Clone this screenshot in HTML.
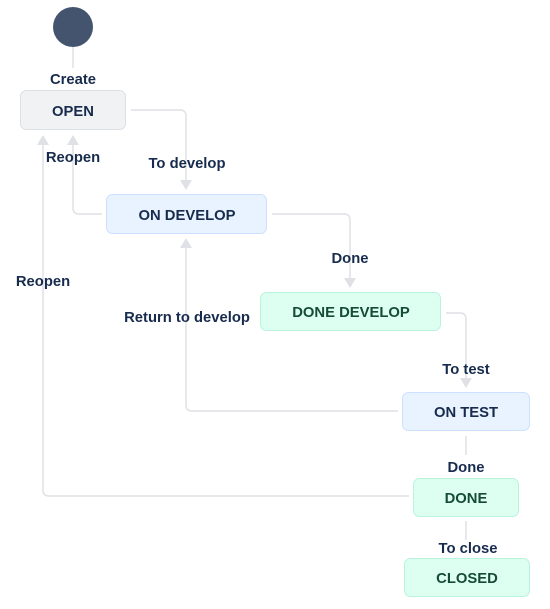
<!DOCTYPE html>
<html><head><meta charset="utf-8"><style>
html,body{margin:0;padding:0;background:#fff;}
svg text{font-family:"Liberation Sans",Arial,sans-serif;font-weight:bold;font-size:14.8px;text-anchor:middle;}
</style></head><body>
<svg width="550" height="604" viewBox="0 0 550 604" xmlns="http://www.w3.org/2000/svg">
<g fill="none" stroke="#dfe1e6" stroke-width="1.5">
<path d="M73 47 V68"/>
<path d="M131 110 H180 Q186 110 186 116 V180"/>
<path d="M102 214 H79 Q73 214 73 208 V142"/>
<path d="M409 496 H49 Q43 496 43 490 V142"/>
<path d="M272 214 H344 Q350 214 350 220 V278"/>
<path d="M446 313 H460 Q466 313 466 319 V378"/>
<path d="M398 411 H192 Q186 411 186 405 V248"/>
<path d="M466 436 V455"/>
<path d="M466 521 V540"/>
</g>
<g fill="#dfe1e6">
<path d="M180 180 L192 180 L186 190 Z"/>
<path d="M67 145 L79 145 L73 135 Z"/>
<path d="M37 145 L49 145 L43 135 Z"/>
<path d="M344 278 L356 278 L350 288 Z"/>
<path d="M460 378 L472 378 L466 388 Z"/>
<path d="M180 248 L192 248 L186 238 Z"/>
</g>
<circle cx="73" cy="27" r="20" fill="#44546f"/>
<rect x="20.5" y="90.5" width="105" height="39" rx="6" fill="#f1f2f4" stroke="#dcdfe4"/>
<rect x="106.5" y="194.5" width="160" height="39" rx="6" fill="#e9f2ff" stroke="#cce0ff"/>
<rect x="260.5" y="292.5" width="180" height="38" rx="6" fill="#dcfff1" stroke="#baf3db"/>
<rect x="402.5" y="392.5" width="127" height="38" rx="6" fill="#e9f2ff" stroke="#cce0ff"/>
<rect x="413.5" y="478.5" width="105" height="38" rx="6" fill="#dcfff1" stroke="#baf3db"/>
<rect x="404.5" y="558.5" width="125" height="38" rx="6" fill="#dcfff1" stroke="#baf3db"/>
<g fill="#172b4d">
<text x="73" y="116">OPEN</text>
<text x="187" y="220">ON DEVELOP</text>
<text x="466" y="417">ON TEST</text>
<text x="73" y="84">Create</text>
<text x="73" y="162">Reopen</text>
<text x="187" y="168">To develop</text>
<text x="43" y="286">Reopen</text>
<text x="350" y="263">Done</text>
<text x="187" y="322">Return to develop</text>
<text x="466" y="374">To test</text>
<text x="466" y="472">Done</text>
<text x="468" y="553">To close</text>
</g>
<g fill="#164b35">
<text x="351" y="317">DONE DEVELOP</text>
<text x="466" y="503">DONE</text>
<text x="467" y="583">CLOSED</text>
</g>
</svg>
</body></html>
